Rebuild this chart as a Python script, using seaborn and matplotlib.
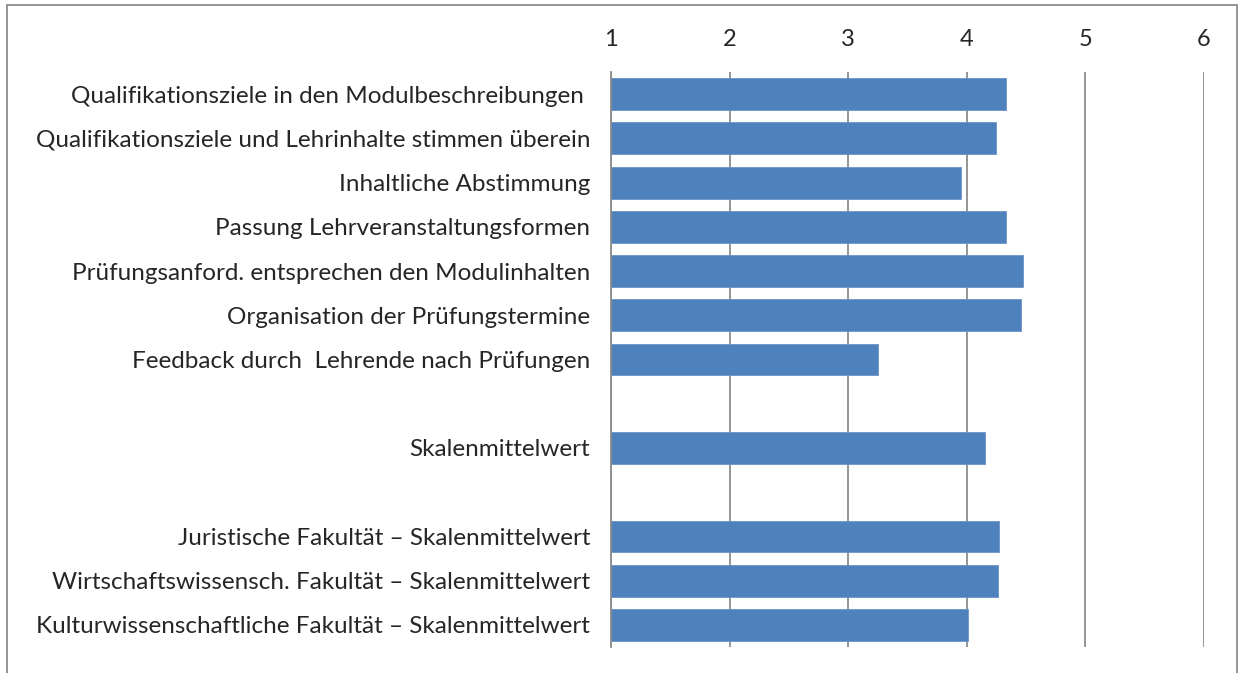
import matplotlib
matplotlib.use("Agg")
import matplotlib.pyplot as plt
from matplotlib.patches import Rectangle
import pandas as pd
import seaborn as sns

labels = [
    "Qualifikationsziele in den Modulbeschreibungen ",
    "Qualifikationsziele und Lehrinhalte stimmen überein",
    "Inhaltliche Abstimmung",
    "Passung Lehrveranstaltungsformen",
    "Prüfungsanford. entsprechen den Modulinhalten",
    "Organisation der Prüfungstermine",
    "Feedback durch  Lehrende nach Prüfungen",
    "Skalenmittelwert",
    "Juristische Fakultät – Skalenmittelwert",
    "Wirtschaftswissensch. Fakultät – Skalenmittelwert",
    "Kulturwissenschaftliche Fakultät – Skalenmittelwert",
]
values = [4.33, 4.25, 3.95, 4.33, 4.47, 4.46, 3.25, 4.15, 4.27, 4.26, 4.01]

# blank rows between the groups
order = labels[:7] + [" "] + labels[7:8] + ["  "] + labels[8:]
ticks = [1, 2, 3, 4, 5, 6]

df = pd.DataFrame({"label": labels, "value": values})

sns.set_style("white")
plt.rcParams["font.family"] = ["Lato", "DejaVu Sans"]

fig = plt.figure(figsize=(12.39, 6.73), dpi=100)
ax = fig.add_axes([611 / 1239, 1 - 647 / 673, (1204 - 611) / 1239, (647 - 72) / 673])

sns.barplot(data=df, y="label", x="value", order=order, orient="h",
            color="#4F81BD", saturation=1, width=0.72, ax=ax,
            edgecolor="#6A93C8", linewidth=0.6)

ax.set_xlim(1, 6)
ax.set_xticks(ticks)
ax.xaxis.tick_top()
ax.tick_params(axis="x", length=0, pad=16, labelsize=17)
ax.tick_params(axis="y", length=0, pad=15, labelsize=17.5)
ax.set_xlabel("")
ax.set_ylabel("")
ax.grid(axis="x", color="#8C8C8C", linewidth=1.3)
ax.set_axisbelow(True)
for s in ["top", "right", "bottom"]:
    ax.spines[s].set_visible(False)
ax.spines["left"].set_color("#8C8C8C")
ax.spines["left"].set_linewidth(1.3)

# outer chart frame
fig.patches.append(Rectangle((7 / 1239, -0.05), (1237 - 7) / 1239, 0.05 + 1 - 5 / 673,
                             transform=fig.transFigure, fill=False,
                             edgecolor="#8C8C8C", linewidth=1.3))

fig.savefig("out.png", dpi=100)
